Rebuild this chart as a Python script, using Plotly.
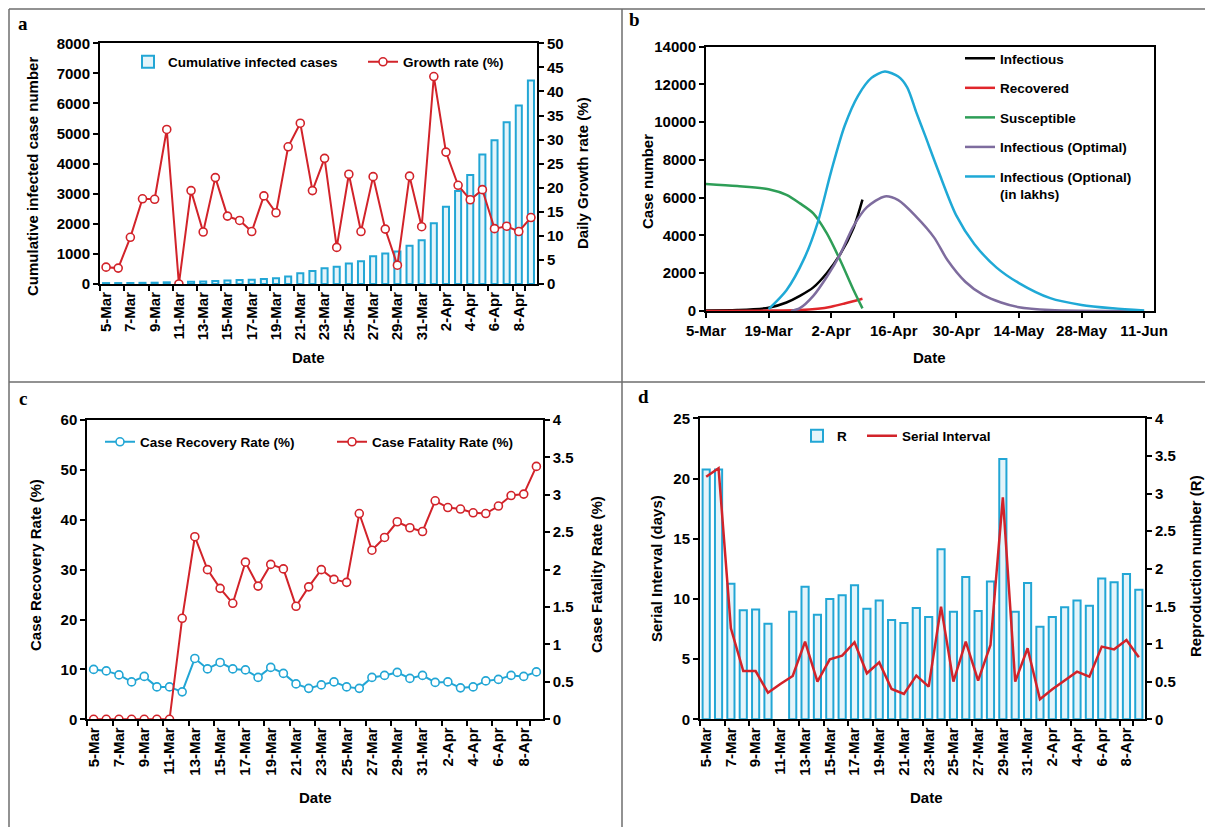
import plotly.graph_objects as go

W, H = 1205, 827
FONT = "Liberation Sans, Arial, sans-serif"
SERIF = "Liberation Serif, Times New Roman, serif"

# ---------------- data ----------------
dates = ['5-Mar', '6-Mar', '7-Mar', '8-Mar', '9-Mar', '10-Mar', '11-Mar', '12-Mar', '13-Mar',
         '14-Mar', '15-Mar', '16-Mar', '17-Mar', '18-Mar', '19-Mar', '20-Mar', '21-Mar', '22-Mar',
         '23-Mar', '24-Mar', '25-Mar', '26-Mar', '27-Mar', '28-Mar', '29-Mar', '30-Mar', '31-Mar',
         '1-Apr', '2-Apr', '3-Apr', '4-Apr', '5-Apr', '6-Apr', '7-Apr', '8-Apr', '9-Apr']
date_ticks = dates[::2]

cumulative_cases = [30, 31, 34, 39, 43, 56, 62, 73, 82, 100, 114, 129, 143, 169, 194, 249, 360, 430,
                    520, 570, 680, 760, 920, 1010, 1080, 1270, 1450, 2020, 2570, 3090, 3620, 4300,
                    4780, 5380, 5930, 6760]
growth_rate = [3.5, 3.3, 9.7, 17.7, 17.6, 32.1, 0, 19.4, 10.8, 22.1, 14.1, 13.2, 10.9, 18.3, 14.8,
               28.5, 33.4, 19.4, 26.1, 7.6, 22.8, 10.9, 22.3, 11.4, 3.9, 22.4, 11.9, 43.1, 27.4,
               20.5, 17.5, 19.6, 11.5, 12.0, 10.9, 13.8]

recovery_rate = [10.0, 9.7, 8.9, 7.5, 8.6, 6.5, 6.5, 5.5, 12.2, 10.1, 11.4, 10.1, 9.9, 8.4, 10.4,
                 9.2, 7.1, 6.2, 6.9, 7.5, 6.5, 6.2, 8.4, 8.8, 9.4, 8.2, 8.8, 7.4, 7.5, 6.3, 6.5,
                 7.7, 8.0, 8.8, 8.6, 9.5]
fatality_rate = [0, 0, 0, 0, 0, 0, 0, 1.35, 2.44, 2.0, 1.75, 1.55, 2.10, 1.78, 2.07, 2.01, 1.51,
                 1.77, 2.0, 1.87, 1.83, 2.75, 2.26, 2.43, 2.64, 2.56, 2.51, 2.92, 2.83, 2.81, 2.76,
                 2.75, 2.85, 2.99, 3.01, 3.38]

reproduction_r = [3.32, 3.32, 1.80, 1.45, 1.46, 1.27, None, 1.43, 1.76, 1.39, 1.60, 1.65, 1.78,
                  1.47, 1.58, 1.32, 1.28, 1.48, 1.36, 2.26, 1.43, 1.89, 1.44, 1.83, 3.46, 1.43,
                  1.81, 1.23, 1.36, 1.49, 1.58, 1.51, 1.87, 1.82, 1.93, 1.72]
serial_interval = [20.15, 20.85, 7.56, 4.01, 4.01, 2.21, 2.93, 3.6, 6.45, 3.13, 4.98, 5.29, 6.4,
                   3.82, 4.73, 2.52, 2.1, 3.63, 2.71, 9.36, 3.13, 6.45, 3.21, 6.17, 18.44, 3.13,
                   5.9, 1.66, 2.49, 3.21, 3.96, 3.54, 6.04, 5.81, 6.59, 5.15]

# panel b (SIR model curves)
infectious_dates = ['2020-03-05', '2020-03-12', '2020-03-19', '2020-03-23', '2020-03-26',
                    '2020-03-29', '2020-04-01', '2020-04-04', '2020-04-07', '2020-04-09']
infectious_vals = [30, 50, 170, 450, 800, 1250, 2000, 3000, 4400, 5900]

recovered_dates = ['2020-03-05', '2020-03-19', '2020-03-26', '2020-03-30', '2020-04-02',
                   '2020-04-05', '2020-04-09']
recovered_vals = [0, 20, 50, 120, 230, 400, 650]

susceptible_dates = ['2020-03-05', '2020-03-12', '2020-03-19', '2020-03-23', '2020-03-26',
                     '2020-03-29', '2020-04-01', '2020-04-04', '2020-04-07', '2020-04-09']
susceptible_vals = [6730, 6620, 6450, 6150, 5700, 5170, 4120, 2700, 1110, 140]

optimal_dates = ['2020-03-24', '2020-03-26', '2020-03-29', '2020-04-01', '2020-04-04',
                 '2020-04-07', '2020-04-10', '2020-04-14', '2020-04-17', '2020-04-21',
                 '2020-04-25', '2020-04-28', '2020-05-02', '2020-05-06', '2020-05-10',
                 '2020-05-14', '2020-05-21', '2020-05-28', '2020-06-11']
optimal_vals = [0, 150, 800, 1800, 3000, 4500, 5500, 6070, 5870, 5000, 3900, 2700, 1550, 850,
                450, 200, 50, 10, 0]

optional_dates = ['2020-03-19', '2020-03-23', '2020-03-27', '2020-03-30', '2020-04-02',
                  '2020-04-05', '2020-04-08', '2020-04-11', '2020-04-14', '2020-04-17',
                  '2020-04-19', '2020-04-21', '2020-04-23', '2020-04-26', '2020-04-30',
                  '2020-05-04', '2020-05-09', '2020-05-14', '2020-05-21', '2020-05-28',
                  '2020-06-04', '2020-06-11']
optional_vals = [100, 1100, 2800, 4700, 7400, 9800, 11400, 12350, 12680, 12420, 11850, 10550,
                 9300, 7400, 5050, 3550, 2300, 1480, 680, 320, 140, 20]

b_tick_dates = ['2020-03-05', '2020-03-19', '2020-04-02', '2020-04-16', '2020-04-30',
                '2020-05-14', '2020-05-28', '2020-06-11']
b_tick_labels = ['5-Mar', '19-Mar', '2-Apr', '16-Apr', '30-Apr', '14-May', '28-May', '11-Jun']

# ---------------- style ----------------
RED = '#d2232a'
CYAN = '#22a6d5'
BAR_FILL = '#e4f4fa'


def px_x(p):
    return p / W


def px_y(p):
    return 1 - p / H


tickfont = dict(family=FONT, size=15, color='black', weight='bold')
axis_common = dict(showline=True, linecolor='black', linewidth=2, ticks='outside', ticklen=5,
                   tickwidth=1.5, tickcolor='black', showgrid=False, zeroline=False,
                   tickfont=tickfont, automargin=False)
cat_x = dict(axis_common, type='category', tickmode='array', tickvals=date_ticks,
             ticktext=date_ticks, tickangle=-90, tickson='boundaries', range=[-0.5, 35.5],
             mirror=True)

fig = go.Figure()

# ---------- panel a ----------
fig.add_trace(go.Bar(x=dates, y=cumulative_cases, name='Cumulative infected cases',
                     xaxis='x', yaxis='y', width=0.5, legend='legend',
                     marker=dict(color=BAR_FILL, line=dict(color=CYAN, width=2))))
fig.add_trace(go.Scatter(x=dates, y=growth_rate, name='Growth rate (%)', mode='lines+markers',
                         xaxis='x', yaxis='y2', legend='legend2',
                         line=dict(color=RED, width=2),
                         marker=dict(symbol='circle', size=8, color='white',
                                     line=dict(color=RED, width=1.6))))

# ---------- panel b ----------
b_series = [
    ('Infectious', infectious_dates, infectious_vals, '#000000'),
    ('Recovered', recovered_dates, recovered_vals, '#e0262b'),
    ('Susceptible', susceptible_dates, susceptible_vals, '#2e9e57'),
    ('Infectious (Optimal)', optimal_dates, optimal_vals, '#7e6c9e'),
    ('Infectious (Optional)<br>(in lakhs)', optional_dates, optional_vals, '#1fa9d6'),
]
for i, (nm, xs, ys, col) in enumerate(b_series):
    fig.add_trace(go.Scatter(x=xs, y=ys, name=nm, mode='lines', xaxis='x2', yaxis='y3',
                             legend='legend3', legendgroup='g%d' % i,
                             line=dict(color=col, width=2.5, shape='spline', smoothing=0.8)))

# ---------- panel c ----------
fig.add_trace(go.Scatter(x=dates, y=recovery_rate, name='Case Recovery Rate (%)',
                         mode='lines+markers', xaxis='x3', yaxis='y4', legend='legend4',
                         line=dict(color=CYAN, width=2),
                         marker=dict(symbol='circle', size=8, color='white',
                                     line=dict(color=CYAN, width=1.6))))
fig.add_trace(go.Scatter(x=dates, y=fatality_rate, name='Case Fatality Rate (%)',
                         mode='lines+markers', xaxis='x3', yaxis='y5', legend='legend5',
                         line=dict(color=RED, width=2),
                         marker=dict(symbol='circle', size=8, color='white',
                                     line=dict(color=RED, width=1.6))))

# ---------- panel d ----------
fig.add_trace(go.Bar(x=dates, y=reproduction_r, name='R', xaxis='x4', yaxis='y6', width=0.58,
                     legend='legend6',
                     marker=dict(color=BAR_FILL, line=dict(color=CYAN, width=2))))
fig.add_trace(go.Scatter(x=dates, y=serial_interval, name='Serial Interval', mode='lines',
                         xaxis='x4', yaxis='y7', legend='legend7',
                         line=dict(color=RED, width=2.5)))

# ---------------- layout ----------------
dom_a_x = [px_x(100), px_x(537)]
dom_a_y = [px_y(284), px_y(43.3)]
dom_b_x = [px_x(706), px_x(1154)]
dom_b_y = [px_y(311), px_y(46.7)]
dom_c_x = [px_x(87.3), px_x(542.7)]
dom_c_y = [px_y(719.3), px_y(420)]
dom_d_x = [px_x(700), px_x(1145)]
dom_d_y = [px_y(719.3), px_y(418.3)]

legend_font = dict(family=FONT, size=13.5, color='black', weight='bold')
legend_common = dict(bgcolor='rgba(0,0,0,0)', font=legend_font, xanchor='left',
                     itemwidth=30, borderwidth=0)


def one_legend(x_icon, y_mid):
    return dict(legend_common, x=px_x(x_icon - 5), y=px_y(y_mid), yanchor='middle',
                orientation='h')


fig.update_layout(
    width=W, height=H,
    margin=dict(l=0, r=0, t=0, b=0, pad=0, autoexpand=False),
    paper_bgcolor='white', plot_bgcolor='white',
    font=dict(family=FONT, size=15, color='black', weight='bold'),
    showlegend=True,
    xaxis=dict(cat_x, domain=dom_a_x, anchor='y'),
    yaxis=dict(axis_common, domain=dom_a_y, anchor='x', range=[0, 8000], dtick=1000,
               tickformat='d'),
    yaxis2=dict(axis_common, overlaying='y', side='right', anchor='x', range=[0, 50], dtick=5),
    xaxis2=dict(axis_common, domain=dom_b_x, anchor='y3', type='date', mirror=True,
                range=['2020-03-05', '2020-06-13 05:00'], tickmode='array',
                tickvals=b_tick_dates, ticktext=b_tick_labels),
    yaxis3=dict(axis_common, domain=dom_b_y, anchor='x2', range=[0, 14000], dtick=2000,
                tickformat='d', mirror=True),
    xaxis3=dict(cat_x, domain=dom_c_x, anchor='y4'),
    yaxis4=dict(axis_common, domain=dom_c_y, anchor='x3', range=[0, 60], dtick=10),
    yaxis5=dict(axis_common, overlaying='y4', side='right', anchor='x3', range=[0, 4],
                dtick=0.5),
    xaxis4=dict(cat_x, domain=dom_d_x, anchor='y6'),
    yaxis6=dict(axis_common, domain=dom_d_y, anchor='x4', side='right', range=[0, 4],
                dtick=0.5),
    yaxis7=dict(axis_common, overlaying='y6', side='left', anchor='x4', range=[0, 25],
                dtick=5),
    legend=one_legend(133, 62),
    legend2=one_legend(368, 62),
    legend3=dict(legend_common, x=px_x(960), y=px_y(43), yanchor='top', orientation='v',
                 tracegroupgap=9, valign='top'),
    legend4=one_legend(105, 442),
    legend5=one_legend(337, 442),
    legend6=one_legend(802, 436),
    legend7=one_legend(867, 436),
)

# ---------------- annotations: axis titles and panel labels ----------------
title_font = dict(family=FONT, size=15, color='black', weight='bold')
titles = [
    ('Cumulative infected case number', 33, 177, -90),
    ('Daily Growth rate (%)', 582, 173, -90),
    ('Date', 308, 358, 0),
    ('Case number', 647, 182, -90),
    ('Date', 929, 357, 0),
    ('Case Recovery Rate (%)', 35, 565, -90),
    ('Case Fatality Rate (%)', 596, 575, -90),
    ('Date', 315, 797, 0),
    ('Serial Interval (days)', 656, 569, -90),
    ('Reproduction number (R)', 1195, 566, -90),
    ('Date', 926, 797, 0),
]
annotations = []
for txt, x, y, ang in titles:
    annotations.append(dict(text=txt, x=px_x(x), y=px_y(y), xref='paper', yref='paper',
                            showarrow=False, textangle=ang, font=title_font,
                            xanchor='center', yanchor='middle'))
for lab, x, y in [('a', 23, 24), ('b', 634, 20), ('c', 23, 398), ('d', 643, 397)]:
    annotations.append(dict(text=lab, x=px_x(x), y=px_y(y), xref='paper', yref='paper',
                            showarrow=False, xanchor='center', yanchor='middle',
                            font=dict(family=SERIF, size=19, color='black', weight='bold')))
fig.update_layout(annotations=annotations)

# ---------------- panel frame lines ----------------
frame = dict(type='line', xref='paper', yref='paper', line=dict(color='#6e6e6e', width=1.5))
shapes = [
    dict(frame, x0=px_x(9), x1=1, y0=px_y(9), y1=px_y(9)),
    dict(frame, x0=px_x(9), x1=px_x(9), y0=px_y(9), y1=0),
    dict(frame, x0=px_x(622), x1=px_x(622), y0=px_y(9), y1=0),
    dict(frame, x0=px_x(9), x1=1, y0=px_y(382), y1=px_y(382)),
]
fig.update_layout(shapes=shapes)

fig.write_html("out.html",
               post_script="document.body.style.margin='0px';document.body.style.overflow='hidden';")
